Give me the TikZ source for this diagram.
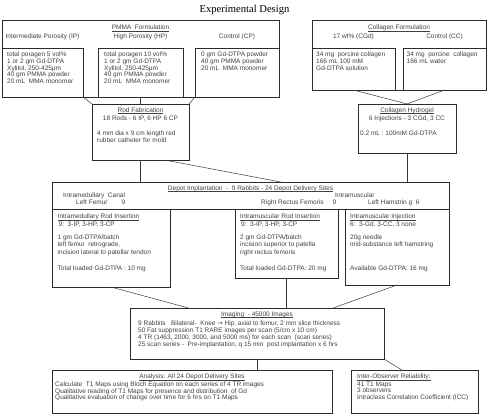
\documentclass[tikz,border=0pt]{standalone}
\usepackage{fontspec}
\setmainfont{Liberation Sans}
\newfontfamily\titlefont{Liberation Serif}
\newfontfamily\arrowfont{DejaVu Sans}
\usepackage{xcolor}
\usetikzlibrary{positioning,calc}
\definecolor{ink}{HTML}{404040}
\definecolor{frame}{HTML}{2B2B2B}
\definecolor{wire}{HTML}{383838}
\newcommand{\ulhead}[1]{\setbox0=\hbox{#1}\rlap{\rule[-0.95pt]{\wd0}{0.35pt}}\box0}

\begin{document}
\begin{tikzpicture}[
    x=1pt, y=-1pt,
    box/.style={draw=frame, line width=0.5pt, anchor=north west, inner sep=0pt, outer sep=0pt},
    txt/.style={inner sep=0pt, align=left, text=ink, font=\fontsize{6.5}{6.8}\selectfont},
    headtxt/.style={txt, align=center},
    loose/.style={txt, font=\fontsize{6.5}{7.6}\selectfont},
    tight/.style={txt, font=\fontsize{6.5}{6.2}\selectfont},
    line/.style={draw=wire, line width=0.5pt}
]
\useasboundingbox (0,0) rectangle (489,414);

\node[inner sep=0pt, font=\titlefont\fontsize{10.6}{12}\selectfont] (title) at (244.5,10) {Experimental Design};

\node[box, minimum width=277pt, minimum height=77pt] (pmma) at (2,20) {};
\node[box, minimum width=81pt, minimum height=49pt] (ipbox) at (2,48) {};
\node[box, minimum width=85pt, minimum height=49pt] (hpbox) at (98,48) {};
\node[box, minimum width=84pt, minimum height=49pt] (cpbox) at (195,48) {};
\node[headtxt, below=5pt of pmma.north] (pmmahead) {\ulhead{PMMA\ \ Formulation}};
\node[headtxt, above=8pt of ipbox.north] (iplabel) {Intermediate Porosity (IP)};
\node[headtxt, above=8pt of hpbox.north] (hplabel) {High Porosity (HP)};
\node[headtxt, above=8pt of cpbox.north] (cplabel) {Control (CP)};
\node[txt, below right=3.5pt and 5pt of ipbox.north west] (iptext) {total poragen 5 vol\%\\1 or 2 gm Gd-DTPA\\Xylitol, 250-425µm\\40 gm PMMA powder\\20 mL\ \ MMA monomer};
\node[txt, below right=3.5pt and 6pt of hpbox.north west] (hptext) {total poragen 10 vol\%\\1 or 2 gm Gd-DTPA\\Xylitol, 250-425µm\\40 gm PMMA powder\\20 mL\ \ MMA monomer};
\node[txt, below right=3.5pt and 6pt of cpbox.north west] (cptext) {0 gm Gd-DTPA powder\\40 gm PMMA powder\\20 mL\ \ MMA monomer};

\node[box, minimum width=174pt, minimum height=70pt] (colform) at (312,20) {};
\node[box, minimum width=83pt, minimum height=42pt] (cgdbox) at (312,48) {};
\node[box, minimum width=83pt, minimum height=42pt] (ccbox) at (403,48) {};
\node[headtxt, below=5pt of colform.north] (colhead) {\ulhead{Collagen Formulation}};
\node[headtxt, above=8pt of cgdbox.north] (cgdlabel) {17 wt\% (CGd)};
\node[headtxt, above=8pt of ccbox.north] (cclabel) {Control (CC)};
\node[txt, below right=3.5pt and 4pt of cgdbox.north west] (cgdtext) {34 mg\ \ porcine collagen\\166 mL 100 mM\\Gd-DTPA solution};
\node[txt, below right=3.5pt and 3.5pt of ccbox.north west] (cctext) {34 mg\ \ porcine\ \ collagen\\166 mL water};

\node[box, minimum width=97pt, minimum height=56pt] (rodfab) at (92,104) {};
\node[headtxt, below=3.5pt of rodfab.north] (rodhead) {\ulhead{Rod Fabrication}\\[1pt]18 Rods - 6 IP, 6 HP 6 CP};
\node[txt, below right=27pt and 5pt of rodfab.north west] (rodtext) {4 mm dia x 9 cm length red\\rubber catheter for mold};

\node[box, minimum width=98pt, minimum height=49pt] (colhyd) at (358,104) {};
\node[headtxt, below=3.5pt of colhyd.north] (hydhead) {\ulhead{Collagen Hydrogel}\\[1pt]6 Injections - 3 CGd, 3 CC};
\node[txt, below right=27pt and 2pt of colhyd.north west] (hydtext) {0.2 mL : 100mM Gd-DTPA};

\node[box, minimum width=397pt, minimum height=27pt] (depot) at (52,182) {};
\node[headtxt, below=3.5pt of depot.north] (depothead) {\ulhead{Depot Implantation\ \ -\ \ 9 Rabbits - 24 Depot Delivery Sites}};
\node[txt, below right=10.5pt and 11pt of depot.north west, font=\fontsize{6.5}{7}\selectfont] (medlabel) {Intramedullary\ \ Canal\\\hspace*{13pt}Left Femur\hspace{14pt}9};
\node[txt, below right=10.5pt and 283pt of depot.north west] (muslabel) {Intramuscular};
\node[txt, below right=17.5pt and 209pt of depot.north west] (rflabel) {Right Rectus Femoris\hspace{9pt}9};
\node[txt, below right=17.5pt and 316pt of depot.north west] (lhlabel) {Left Hamstrin g\ \ 6};

\node[box, minimum width=118pt, minimum height=78pt] (med) at (52,209) {};
\node[box, minimum width=103pt, minimum height=69pt] (mrod) at (235,209) {};
\node[box, minimum width=104pt, minimum height=76pt] (inj) at (345,209) {};
\node[loose, below right=5pt and 5.5pt of med.north west] (medtext) {\ulhead{Intramedullary Rod Insertion}\\\hspace*{1pt}9:\ \ 3-IP, 3-HP, 3-CP\\[5pt]1 gm Gd-DTPA/batch\\left femur\ \ retrograde,\\incision lateral to patellar tendon\\[9pt]Total loaded Gd-DTPA : 10 mg};
\node[loose, below right=5pt and 5pt of mrod.north west] (mrodtext) {\ulhead{Intramuscular Rod Insertion}\\\hspace*{1pt}9:\ \ 3-IP, 3-HP, 3-CP\\[5pt]2 gm Gd-DTPA/batch\\incision superior to patella\\right rectus femoris\\[9pt]Total loaded Gd-DTPA: 20 mg};
\node[loose, below right=5pt and 5pt of inj.north west] (injtext) {\ulhead{Intramuscular Injection}\\6:\ \ 3-Gd, 3-CC, 3 none\\[5pt]20g needle\\mid-substance left hamstring\\[16.6pt]Available Gd-DTPA: 16 mg};

\node[box, minimum width=254pt, minimum height=51pt] (imaging) at (130,308) {};
\node[headtxt, below=3.5pt of imaging.north] (imghead) {\ulhead{Imaging\ \ - 45000 Images}};
\node[txt, below right=13pt and 8pt of imaging.north west] (imgtext) {9 Rabbits\ \ \ Bilateral-\ \ Knee {\arrowfont →} Hip, axial to femur, 2 mm slice thickness\\50 Fat suppression T1 RARE images per scan (5/cm x 10 cm)\\4 TR (1463, 2000, 3000, and 5000 ms) for each scan\ \ (scan series)\\25 scan series -\ \ Pre-implantation, q 15 min\ \ post implantation x 6 hrs};

\node[box, minimum width=280pt, minimum height=43pt, line width=0.9pt] (analysis) at (52,370) {};
\node[headtxt, below=4pt of analysis.north] (anahead) {\ulhead{Analysis: All 24 Depot Delivery Sites}};
\node[tight, below right=12pt and 3pt of analysis.north west] (anatext) {Calculate\ \ T1 Maps using Bloch Equation on each series of 4 TR images\\Qualitative reading of T1 Maps for presence and distribution\ \ of Gd\\Qualitative evaluation of change over time for 6 hrs on T1 Maps};

\node[box, minimum width=127pt, minimum height=43pt] (obs) at (351,370) {};
\node[tight, below right=4pt and 6pt of obs.north west] (obstext) {\ulhead{Inter-Observer Reliability:}\\[1.5pt]41 T1 Maps\\3 observers\\Intraclass Correlation Coefficient (ICC)};

\draw[line] (ipbox.south east) -- (rodfab.north west);
\draw[line] (hpbox.south) -- (rodfab.north);
\draw[line] (cpbox.south west) -- (rodfab.north east);
\draw[line] (cgdbox.south) -- (colhyd.north);
\draw[line] (ccbox.south) -- (colhyd.north);
\draw[line] (rodfab.south) -- (rodfab.south |- depot.north);
\draw[line] ($(rodfab.south)!0.5!(rodfab.south east)$) -- ([xshift=30pt]depot.north);
\draw[line] (colhyd.south) -- (colhyd.south |- depot.north);
\draw[line] (med.south) -- ($(imaging.north west)!0.23!(imaging.north east)$);
\draw[line] (mrod.south) -- (mrod.south |- imaging.north);
\draw[line] (inj.south) -- ($(imaging.north west)!0.8!(imaging.north east)$);
\draw[line] (imaging.south) -- (imaging.south |- analysis.north);
\draw[line] (imaging.south east) -- ($(obs.north west)!0.4!(obs.north east)$);
\end{tikzpicture}
\end{document}
